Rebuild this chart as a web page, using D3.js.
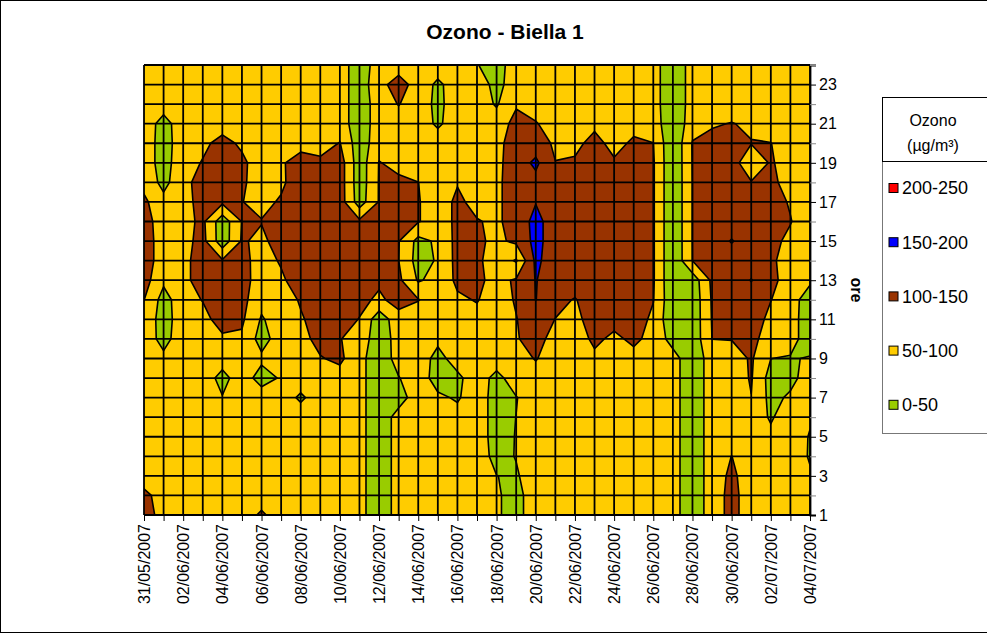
<!doctype html>
<html>
<head>
<meta charset="utf-8">
<style>
    body { margin: 0; background: #fff; }
    text { font-family: Arial, "Liberation Sans", sans-serif; }
</style>
<script src="https://d3js.org/d3.v7.min.js"></script>
</head>
<body>
<svg width="987" height="633"></svg>
<script>

    // days on the x axis (one column of the grid each)
    var days = ["31/05/2007","01/06/2007","02/06/2007","03/06/2007","04/06/2007","05/06/2007",
                "06/06/2007","07/06/2007","08/06/2007","09/06/2007","10/06/2007","11/06/2007",
                "12/06/2007","13/06/2007","14/06/2007","15/06/2007","16/06/2007","17/06/2007",
                "18/06/2007","19/06/2007","20/06/2007","21/06/2007","22/06/2007","23/06/2007",
                "24/06/2007","25/06/2007","26/06/2007","27/06/2007","28/06/2007","29/06/2007",
                "30/06/2007","01/07/2007","02/07/2007","03/07/2007","04/07/2007"];

    // hours on the y axis
    var hours = [1,2,3,4,5,6,7,8,9,10,11,12,13,14,15,16,17,18,19,20,21,22,23,24];
    var hourTicks = [1,3,5,7,9,11,13,15,17,19,21,23];

    // ozone (ug/m3), one array per day, hours 1..24
    var ozone = [
        [130,115,70,75,75,75,75,75,75,75,80,101,120,125,125,120,110,85,75,75,75,75,75,75],
        [75,75,75,75,75,75,75,75,60,35,30,30,60,75,75,75,65,35,30,30,33,70,75,75],
        [75,75,75,75,75,75,75,75,75,75,75,80,85,85,85,85,85,85,80,75,75,75,75,75],
        [75,75,75,75,75,75,75,75,75,75,85,102,125,125,115,110,115,120,103,90,75,75,75,75],
        [75,75,75,75,75,75,52,35,70,92,120,125,125,105,20,20,110,125,125,115,80,75,75,75],
        [75,75,75,75,75,75,75,75,75,92,108,115,120,115,105,102,101,108,110,92,75,75,75,75],
        [108,75,75,75,75,75,75,30,60,30,45,65,75,80,90,102,88,75,75,75,75,75,75,75],
        [75,75,75,75,75,75,75,55,75,75,75,75,92,105,120,125,105,92,95,88,75,75,75,75],
        [75,75,75,75,75,75,42,75,75,85,95,105,125,125,125,125,125,125,118,85,75,75,75,75],
        [75,75,75,75,75,75,75,80,97,115,120,125,125,125,125,125,125,125,110,80,75,75,75,75],
        [75,75,75,75,75,75,75,80,110,102,125,125,125,125,125,125,125,125,125,102,75,75,75,75],
        [65,65,65,65,65,65,65,65,65,80,98,115,125,125,125,110,25,20,20,20,20,20,20,20],
        [20,20,20,20,20,20,20,20,20,20,20,90,110,125,125,125,103,103,102,80,75,75,85,75],
        [68,68,68,68,68,68,30,48,68,70,80,120,110,100.5,102,115,115,108,88,75,75,102,120,78],
        [75,75,75,75,75,75,75,75,75,75,75,102,45,30,35,103,103,100.5,80,75,75,75,80,75],
        [75,75,75,75,75,75,58,30,35,60,75,75,65,55,58,75,75,75,75,75,42,38,40,75],
        [75,75,75,75,75,65,45,40,70,75,75,92,110,115,115,110,110,97,75,75,75,75,75,75],
        [75,75,75,75,75,75,75,75,75,75,85,103,108,108,108,103,85,75,75,75,75,75,75,52],
        [55,55,50.5,35,30,30,30,35,75,75,75,75,88,80,90,92,92,90,88,85,75,45,35,30],
        [35,35,45,52,52,50.5,48,75,80,97,98,105,105,45,110,120,120,125,125,125,115,95,75,75],
        [75,75,75,75,75,75,75,80,103,115,130,151,152,160,165,165,148,135,160,125,103,80,75,75],
        [75,75,75,75,75,75,75,75,75,85,99,115,125,125,125,125,125,125,101,92,80,75,75,75],
        [75,75,75,75,75,75,75,75,75,75,85,97,125,125,125,125,125,125,106,88,75,75,75,75],
        [75,75,75,75,75,75,75,75,90,110,125,125,125,125,125,125,125,125,125,115,90,75,75,75],
        [75,75,75,75,75,75,75,75,80,90,115,125,125,125,125,125,125,125,106,85,75,75,75,75],
        [75,75,75,75,75,75,75,75,85,110,125,125,125,125,125,125,125,125,125,108,85,75,75,75],
        [75,75,75,75,75,75,75,75,75,85,90,102,105,105,105,105,105,105,105,100.5,80,75,75,75],
        [70,70,70,70,70,70,70,70,70,30,10,10,5,5,5,5,5,5,5,5,5,5,5,5],
        [15,15,15,15,15,15,15,15,15,15,15,15,20,100.5,101,101,101,101,102,103,80,75,75,75],
        [75,75,75,75,75,75,75,75,75,100.5,103,105,110,125,125,125,125,125,125,115,95,75,75,75],
        [115,115,110,100.5,75,75,75,75,75,102,125,125,125,125,153,125,125,125,125,118,102,75,75,75],
        [75,75,75,75,75,75,99,104,106,115,120,125,152,125,125,125,125,103,60,102,92,75,75,75],
        [75,75,75,75,60,45,35,30,50.5,75,90,101,115,110,112,115,118,112,106,101,75,75,75,75],
        [75,75,75,75,75,75,58,35,45,75,75,75,75,75,90,102,96,80,75,75,75,75,75,75],
        [75,75,55,46,47,55,101,75,55,15,15,20,60,75,75,75,75,75,75,75,75,75,75,75]
    ];

    // colour bands
    var bandLows   = [0, 50, 100, 150, 200];
    var bandLabels = ["0-50", "50-100", "100-150", "150-200", "200-250"];
    var bandColors = ["#99cc00", "#ffcc00", "#993300", "#0000ff", "#ff0000"];

    var svg = d3.select("svg");

    svg.append("rect")
       .attr("x", 0.5).attr("y", 0.5)
       .attr("width", 1000).attr("height", 632)
       .attr("fill", "#fff").attr("stroke", "#000");

    svg.append("text")
       .attr("x", 505).attr("y", 39)
       .attr("text-anchor", "middle")
       .attr("font-size", "21px").attr("font-weight", "bold")
       .text("Ozono - Biella 1");

    var plotLeft = 144, plotRight = 810, plotTop = 65, plotBottom = 515;

    var xScale = d3.scaleLinear().domain([0, days.length - 1]).range([plotLeft, plotRight]),
        yScale = d3.scaleLinear().domain([1, 24]).range([plotBottom, plotTop]);

    // grid padded by one repeated row/column so the contours meet the edges cleanly
    var nx = days.length + 2, ny = hours.length + 2;
    var grid = [];
    for (var j = 0; j < ny; j++) {
        for (var i = 0; i < nx; i++) {
            var c = Math.min(Math.max(i - 1, 0), days.length - 1),
                h = Math.min(Math.max(j - 1, 0), hours.length - 1);
            grid.push(ozone[c][h]);
        }
    }

    var contours = d3.contours().size([nx, ny]).thresholds(bandLows)(grid);

    var proj = d3.geoTransform({
        point: function(x, y) { this.stream.point(xScale(x - 1.5), yScale(y - 0.5)); }
    });
    var path = d3.geoPath(proj);

    svg.append("clipPath").attr("id", "plot")
       .append("rect")
       .attr("x", plotLeft).attr("y", plotTop)
       .attr("width", plotRight - plotLeft).attr("height", plotBottom - plotTop);

    var g = svg.append("g").attr("clip-path", "url(#plot)");

    g.selectAll("path")
     .data(contours)
     .enter().append("path")
     .attr("d", path)
     .attr("fill", function(d, k) { return bandColors[k]; })
     .attr("stroke", "#000")
     .attr("stroke-width", 1.6)
     .attr("stroke-linejoin", "round");

    // grid lines
    svg.append("g").selectAll("line")
       .data(d3.range(days.length))
       .enter().append("line")
       .attr("x1", function(d) { return xScale(d); })
       .attr("x2", function(d) { return xScale(d); })
       .attr("y1", plotTop).attr("y2", plotBottom)
       .attr("stroke", "#000").attr("stroke-width", 1.8);

    svg.append("g").selectAll("line")
       .data(hours)
       .enter().append("line")
       .attr("y1", function(d) { return yScale(d); })
       .attr("y2", function(d) { return yScale(d); })
       .attr("x1", plotLeft).attr("x2", plotRight)
       .attr("stroke", "#000").attr("stroke-width", 1.8);

    // bottom axis
    var xAxis = svg.append("g")
       .attr("transform", "translate(0," + plotBottom + ")")
       .call(d3.axisBottom(xScale).tickValues(d3.range(days.length))
             .tickSize(6).tickFormat(""));
    xAxis.select(".domain").remove();

    svg.append("g").selectAll("text")
       .data(days.filter(function(d, k) { return k % 2 === 0; }))
       .enter().append("text")
       .attr("transform", function(d) {
           return "translate(" + (xScale(days.indexOf(d)) + 6) + "," + (plotBottom + 9) + ") rotate(-90)";
       })
       .attr("text-anchor", "end")
       .attr("font-size", "16px")
       .text(function(d) { return d; });

    // right axis
    var yAxis = svg.append("g")
       .attr("transform", "translate(" + plotRight + ",0)")
       .call(d3.axisRight(yScale).tickValues(hours).tickSize(6).tickFormat(""));
    yAxis.select(".domain").attr("stroke", "#000").attr("stroke-width", 1.8);
    yAxis.selectAll(".tick line").attr("stroke", function(d) {
        return hourTicks.indexOf(d) >= 0 ? "#000" : "#888";
    });

    svg.append("g").selectAll("text")
       .data(hourTicks)
       .enter().append("text")
       .attr("x", plotRight + 9)
       .attr("y", function(d) { return yScale(d); })
       .attr("dy", "0.36em")
       .attr("font-size", "16px")
       .text(function(d) { return d; });

    svg.append("text")
       .attr("transform", "translate(851,290) rotate(90)")
       .attr("text-anchor", "middle")
       .attr("font-size", "16px").attr("font-weight", "bold")
       .text("ore");

    // legend
    var lg = svg.append("g");
    lg.append("rect")
      .attr("x", 882.5).attr("y", 161.5).attr("width", 200).attr("height", 272)
      .attr("fill", "#fff").attr("stroke", "#777");
    lg.append("rect")
      .attr("x", 882.5).attr("y", 97.5).attr("width", 200).attr("height", 64)
      .attr("fill", "#fff").attr("stroke", "#000");
    lg.append("text").attr("x", 933).attr("y", 126)
      .attr("text-anchor", "middle").attr("font-size", "16px").text("Ozono");
    lg.append("text").attr("x", 933).attr("y", 151)
      .attr("text-anchor", "middle").attr("font-size", "16px").text("(\u00b5g/m\u00b3)");

    var order = [4, 3, 2, 1, 0];
    var item = lg.selectAll(".item")
      .data(order)
      .enter().append("g")
      .attr("class", "item")
      .attr("transform", function(d, k) { return "translate(889," + (188 + k * 54.2) + ")"; });
    item.append("rect")
      .attr("x", 0).attr("y", -4.5).attr("width", 9).attr("height", 9)
      .attr("fill", function(d) { return bandColors[d]; })
      .attr("stroke", "#000");
    item.append("text")
      .attr("x", 13).attr("dy", "0.36em")
      .attr("font-size", "18px")
      .text(function(d) { return bandLabels[d]; });

</script>
</body>
</html>
